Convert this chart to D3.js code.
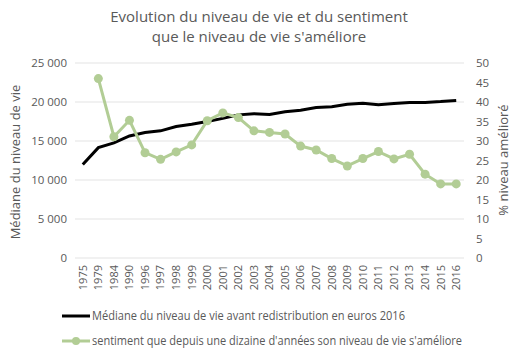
<!DOCTYPE html>
<html><head><meta charset="utf-8">
<script src="https://cdn.jsdelivr.net/npm/d3@7"></script>
<style>body{margin:0;background:#fff}svg{display:block}text{font-family:"Open Sans","Liberation Sans",sans-serif;fill:#595959}</style>
</head><body>
<svg id="c" width="522" height="359"></svg>
<script>
const years = ["1975","1979","1984","1990","1996","1997","1998","1999","2000","2001","2002","2003","2004","2005","2006","2007","2008","2009","2010","2011","2012","2013","2014","2015","2016"];
const mediane = [12000,14150,14750,15650,16100,16300,16850,17150,17500,17900,18350,18500,18400,18750,18950,19300,19400,19700,19850,19650,19800,19950,19950,20050,20200];
const sentiment = [null,46,31.1,35.3,27,25.3,27.2,29,35.2,37.2,36,32.6,32.2,31.8,28.7,27.7,25.5,23.6,25.5,27.3,25.4,26.6,21.5,19,19];
const leftTicks = [0,5000,10000,15000,20000,25000];
const rightTicks = [0,5,10,15,20,25,30,35,40,45,50];
const seriesNames = ["Médiane du niveau de vie avant redistribution en euros 2016","sentiment que depuis une dizaine d'années son niveau de vie s'améliore"];

const svg = d3.select("#c");
const L=75,R=464,T=63,B=258;
const x = d3.scaleBand().domain(years).range([L,R]);
const yL = d3.scaleLinear().domain([0,25000]).range([B,T]);
const yR = d3.scaleLinear().domain([0,50]).range([B,T]);
const fmt = v => d3.format(",")(v).replace(/,/g," ");
const green="#b2cd95";

svg.append("g").selectAll("line").data(leftTicks).join("line")
 .attr("x1",L).attr("x2",R).attr("y1",d=>yL(d)).attr("y2",d=>yL(d))
 .attr("stroke","#e3e3e3").attr("stroke-width",1);

const ax1 = svg.append("g").attr("transform",`translate(${L-8},0)`)
 .call(d3.axisLeft(yL).tickValues(leftTicks).tickFormat(fmt).tickSize(0).tickPadding(0));
ax1.select(".domain").remove();
ax1.selectAll("text").attr("font-size","11.5px").attr("fill","#595959").style("font-family",'"Open Sans",sans-serif');

const ax2 = svg.append("g").attr("transform",`translate(${R+12},0)`)
 .call(d3.axisRight(yR).tickValues(rightTicks).tickSize(0).tickPadding(0));
ax2.select(".domain").remove();
ax2.selectAll("text").attr("font-size","11.5px").attr("fill","#595959").style("font-family",'"Open Sans",sans-serif');

const ax3 = svg.append("g").attr("transform",`translate(0,${B+5})`)
 .call(d3.axisBottom(x).tickSize(0).tickPadding(0));
ax3.select(".domain").remove();
ax3.selectAll("text").attr("font-size","11px").attr("fill","#595959").style("font-family",'"Open Sans",sans-serif')
 .attr("transform","rotate(-90)").attr("text-anchor","end").attr("dy","0.35em").attr("x",-2).attr("y",0);

const lineL = d3.line().x((d,i)=>x(years[i])+x.bandwidth()/2).y(d=>yL(d));
svg.append("path").datum(mediane).attr("d",lineL).attr("fill","none").attr("stroke","#000").attr("stroke-width",3);

const lineR = d3.line().defined(d=>d!==null).x((d,i)=>x(years[i])+x.bandwidth()/2).y(d=>yR(d));
svg.append("path").datum(sentiment).attr("d",lineR).attr("fill","none").attr("stroke",green).attr("stroke-width",3);
svg.append("g").selectAll("circle").data(sentiment.map((v,i)=>({v,y:years[i]})).filter(d=>d.v!==null)).join("circle")
 .attr("cx",d=>x(d.y)+x.bandwidth()/2).attr("cy",d=>yR(d.v)).attr("r",4.5).attr("fill",green);

svg.append("text").attr("x",259).attr("y",22).attr("text-anchor","middle").attr("font-size","15px").text("Evolution du niveau de vie et du sentiment");
svg.append("text").attr("x",259).attr("y",42).attr("text-anchor","middle").attr("font-size","15px").text("que le niveau de vie s'améliore");

svg.append("text").attr("transform","translate(20,162) rotate(-90)").attr("text-anchor","middle").attr("font-size","13px").text("Médiane du niveau de vie");
svg.append("text").attr("transform","translate(508,160) rotate(-90)").attr("text-anchor","middle").attr("font-size","13px").text("% niveau amélioré");

const lg = svg.append("g");
lg.append("line").attr("x1",62).attr("x2",90).attr("y1",316).attr("y2",316).attr("stroke","#000").attr("stroke-width",3);
lg.append("text").attr("x",92).attr("y",316).attr("dy","0.35em").attr("font-size","12px")
 .attr("textLength",313).attr("lengthAdjust","spacingAndGlyphs").text(seriesNames[0]);
lg.append("line").attr("x1",62).attr("x2",90).attr("y1",341).attr("y2",341).attr("stroke",green).attr("stroke-width",3);
lg.append("circle").attr("cx",76).attr("cy",341).attr("r",4).attr("fill",green);
lg.append("text").attr("x",92).attr("y",341).attr("dy","0.35em").attr("font-size","12px")
 .attr("textLength",370).attr("lengthAdjust","spacingAndGlyphs").text(seriesNames[1]);
</script>
</body></html>
